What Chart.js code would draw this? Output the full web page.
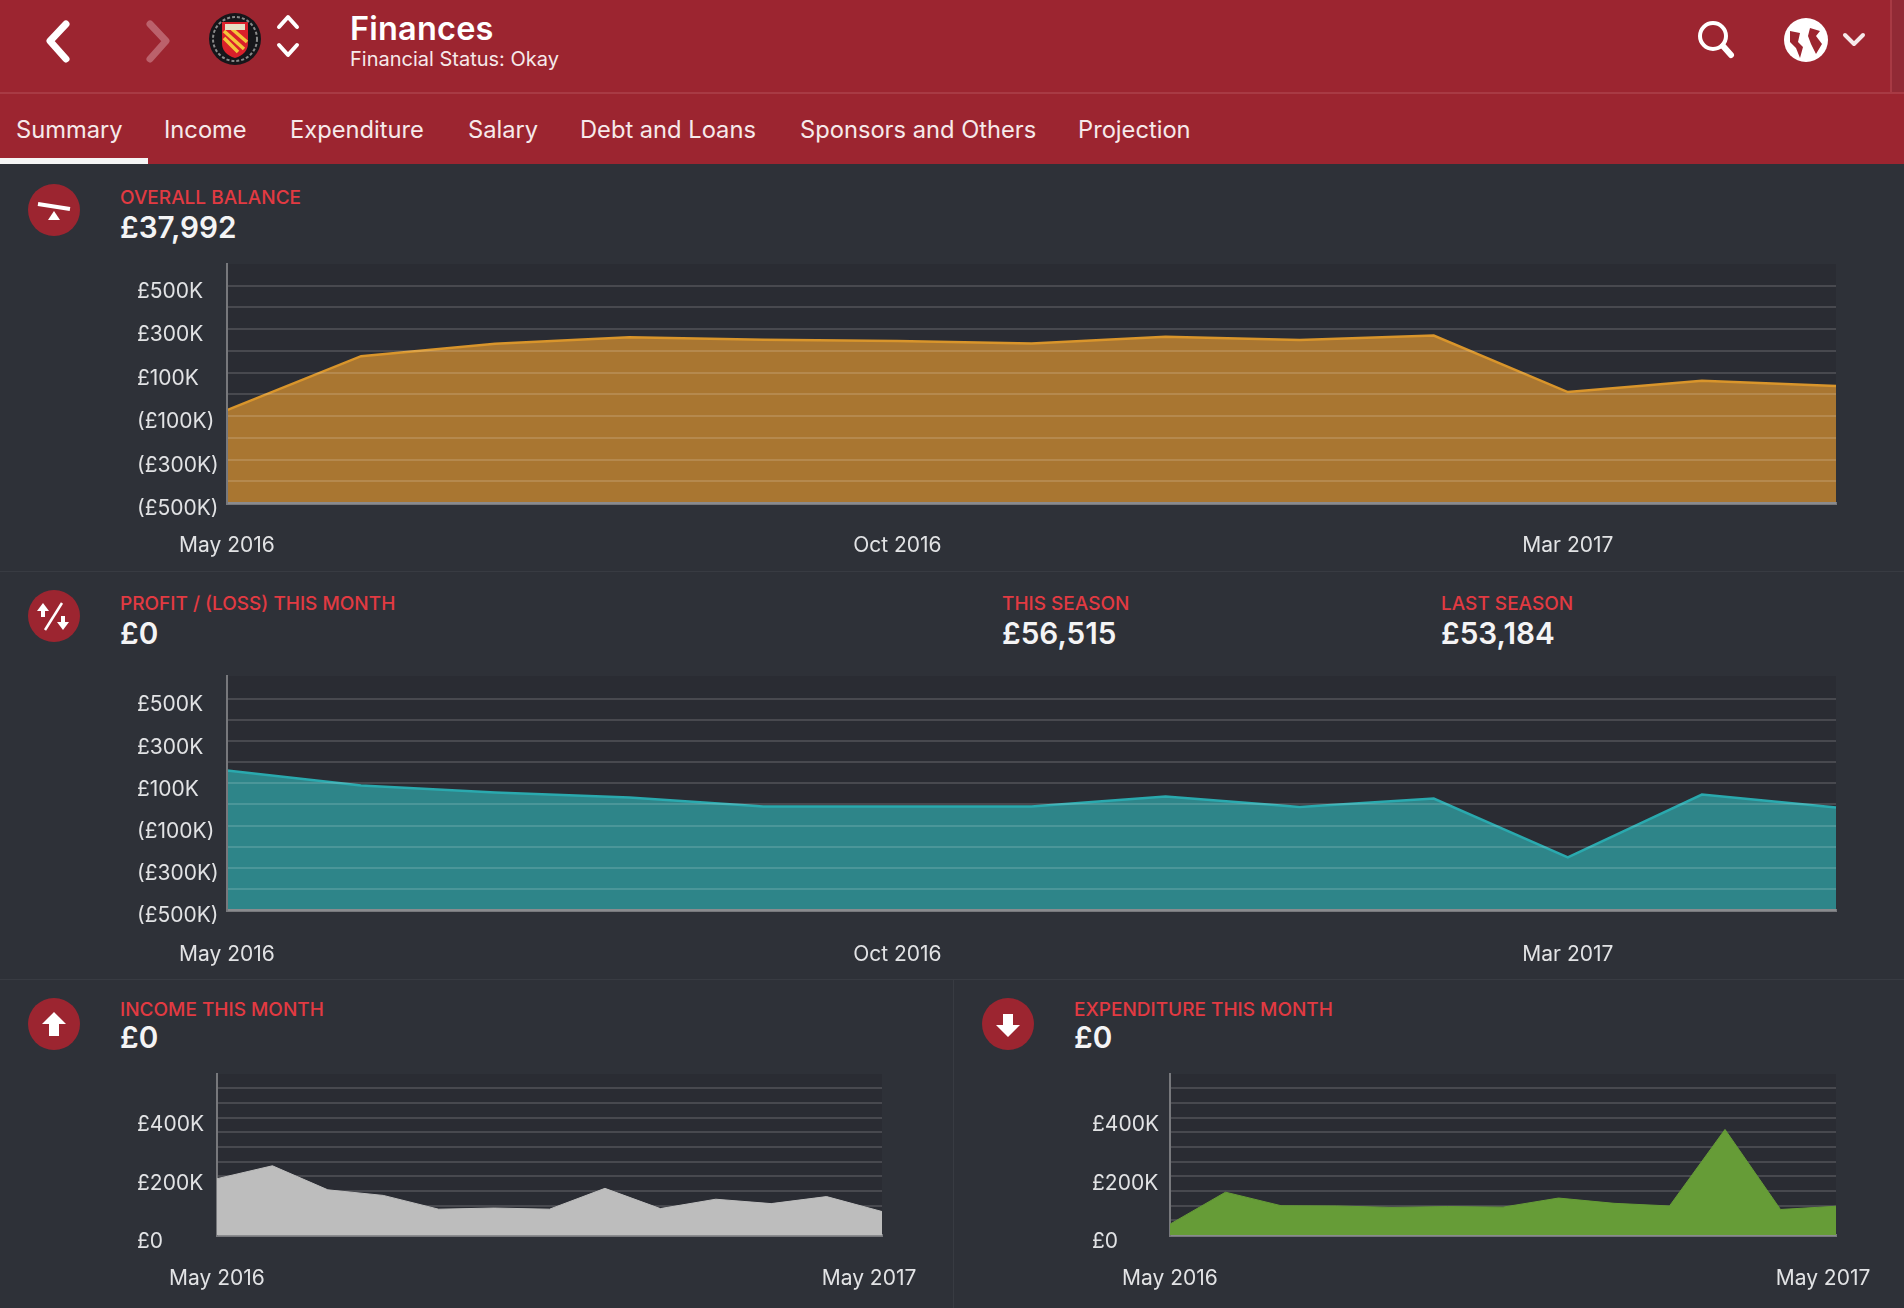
<!DOCTYPE html>
<html>
<head>
<meta charset="utf-8">
<title>Finances</title>
<script src="https://cdn.jsdelivr.net/npm/chart.js@4"></script>
<style>
    html, body { margin: 0; padding: 0; background: #2e3138; }
    body { position: relative; width: 1904px; height: 1308px; overflow: hidden; font-family: Inter, sans-serif; color: #fff; }
    .bar { position: absolute; background: #9c2530; left: 0; top: 0; width: 1904px; height: 164px; }
    .rule { position: absolute; }
    .txt { position: absolute; white-space: nowrap; line-height: 30px; height: 30px; }
    .tab { font-size: 23.7px; top: 115px; color: #f6e9ea; }
    .head { font-size: 19px; font-weight: 500; color: #e23a42; }
    .val { font-size: 29.7px; font-weight: 600; color: #f4f4f5; }
    canvas { position: absolute; }
    svg { position: absolute; left: 0; top: 0; }
</style>
</head>
<body>
<div class="bar"></div>
<div class="rule" style="left:0;top:92px;width:1904px;height:2px;background:#a83a44"></div>
<div class="rule" style="left:1890px;top:0;width:14px;height:92px;background:#912a35"></div>
<div class="rule" style="left:1890px;top:0;width:2px;height:92px;background:#a83a44"></div>
<div class="rule" style="left:0;top:158px;width:148px;height:6px;background:#f5f5f5"></div>
<div class="rule" style="left:0;top:571px;width:1904px;height:1px;background:#383b42"></div>
<div class="rule" style="left:0;top:979px;width:1904px;height:1px;background:#383b42"></div>
<div class="rule" style="left:953px;top:979px;width:1px;height:329px;background:#383b42"></div>

<div class="txt" style="left:350px;top:13px;font-size:32.5px;font-weight:600;line-height:32px;height:32px;letter-spacing:0.2px">Finances</div>
<div class="txt" style="left:350px;top:44px;font-size:20px;color:#f6e9ea">Financial Status: Okay</div>

<div class="txt tab" style="left:16px">Summary</div>
<div class="txt tab" style="left:164px">Income</div>
<div class="txt tab" style="left:290px">Expenditure</div>
<div class="txt tab" style="left:468px">Salary</div>
<div class="txt tab" style="left:580px">Debt and Loans</div>
<div class="txt tab" style="left:800px">Sponsors and Others</div>
<div class="txt tab" style="left:1078px">Projection</div>

<div class="txt head" style="left:120px;top:183px">OVERALL BALANCE</div>
<div class="txt val" style="left:120px;top:212px">£37,992</div>
<div class="txt head" style="left:120px;top:589px">PROFIT / (LOSS) THIS MONTH</div>
<div class="txt val" style="left:120px;top:618px">£0</div>
<div class="txt head" style="left:1002px;top:589px">THIS SEASON</div>
<div class="txt val" style="left:1002px;top:618px">£56,515</div>
<div class="txt head" style="left:1441px;top:589px">LAST SEASON</div>
<div class="txt val" style="left:1441px;top:618px">£53,184</div>
<div class="txt head" style="left:120px;top:995px">INCOME THIS MONTH</div>
<div class="txt val" style="left:120px;top:1022px">£0</div>
<div class="txt head" style="left:1074px;top:995px">EXPENDITURE THIS MONTH</div>
<div class="txt val" style="left:1074px;top:1022px">£0</div>

<svg width="1904" height="1308" fill="none">
    <g stroke="#fff" stroke-width="7" stroke-linecap="round" stroke-linejoin="round">
        <path d="M66 24 L50 41 L66 59"/>
        <path d="M150 24 L166 41 L150 59" stroke="#bb616b"/>
        <g stroke-width="4">
            <path d="M279 27 L288 17 L297 27"/>
            <path d="M279 45 L288 55 L297 45"/>
        </g>
    </g>
    <circle cx="235" cy="39" r="26" fill="#16161a"/>
    <circle cx="235" cy="39" r="22" stroke="#8a8a8a" stroke-width="2" stroke-dasharray="3 2"/>
    <path d="M222 22 H248 V43 Q248 54 235 58 Q222 54 222 43 Z" fill="#d9202a"/>
    <path d="M224 31 L244 49 M224 38 L238 52 M232 29 L247 42" stroke="#f3c53a" stroke-width="3.5"/>
    <rect x="225" y="24" width="20" height="6" fill="#e6e0c6"/>

    <circle cx="1713" cy="36" r="13" stroke="#fff" stroke-width="4"/>
    <path d="M1723 46 L1731 55" stroke="#fff" stroke-width="6" stroke-linecap="round"/>
    <circle cx="1806" cy="40" r="22" fill="#fff"/>
    <path d="M1790 31 L1800 33 L1798 42 L1803 47 L1800 58 L1796 48 L1790 42 Z M1810 28 L1820 31 L1816 36 L1822 44 L1816 54 L1811 44 L1808 36 Z" fill="#9c2530"/>
    <path d="M1845 35 L1854 44 L1863 35" stroke="#f6e9ea" stroke-width="4" stroke-linecap="round" stroke-linejoin="round"/>

    <circle cx="54" cy="210" r="26" fill="#9c2530"/>
    <path d="M38 204 L70 209" stroke="#fff" stroke-width="4"/>
    <path d="M54 211 L60 220 H48 Z" fill="#fff"/>

    <circle cx="54" cy="616" r="26" fill="#9c2530"/>
    <path d="M45 630 L62 603" stroke="#fff" stroke-width="2.5"/>
    <path d="M43 603 L49 611 H45 V617 H41 V611 H37 Z" fill="#fff"/>
    <path d="M63 630 L69 622 H65 V616 H61 V622 H57 Z" fill="#fff"/>

    <circle cx="54" cy="1024" r="26" fill="#9c2530"/>
    <path d="M54 1012 L66 1024 H59 V1036 H49 V1024 H42 Z" fill="#fff"/>

    <circle cx="1008" cy="1024" r="26" fill="#9c2530"/>
    <path d="M1008 1037 L1020 1025 H1013 V1014 H1003 V1025 H996 Z" fill="#fff"/>
</svg>

<canvas id="balanceChart" style="left:137px;top:259px" width="1767" height="306"></canvas>
<canvas id="profitChart" style="left:137px;top:671px" width="1767" height="300"></canvas>
<canvas id="incomeChart" style="left:137px;top:1069px" width="813" height="230"></canvas>
<canvas id="expenditureChart" style="left:1092px;top:1069px" width="812" height="230"></canvas>

<script>
const months = ['May 2016', 'Jun 2016', 'Jul 2016', 'Aug 2016', 'Sep 2016', 'Oct 2016', 'Nov 2016', 'Dec 2016', 'Jan 2017', 'Feb 2017', 'Mar 2017', 'Apr 2017', 'May 2017'];

const balanceValues = [-73000, 175000, 232000, 262000, 251000, 245000, 234000, 264000, 250000, 270000, 10000, 62000, 38000];
const profitValues = [161000, 90000, 57000, 33000, -9000, -9000, -9000, 38000, -12000, 28000, -251000, 47000, -14000];
const incomeValues = [192000, 236000, 154000, 135000, 88000, 92000, 88000, 159000, 90000, 122000, 107000, 131000, 80000];
const expenditureValues = [37000, 146000, 100000, 99000, 94000, 97000, 95000, 126000, 108000, 99000, 360000, 87000, 98000];

const wideMonthTicks = ['May 2016', 'Oct 2016', 'Mar 2017'];
const narrowMonthTicks = ['May 2016', 'May 2017'];

const wideGridValues = [-500000, -400000, -300000, -200000, -100000, 0, 100000, 200000, 300000, 400000, 500000];
const wideTickValues = [500000, 300000, 100000, -100000, -300000, -500000];
const wideTickLabels = ['£500K', '£300K', '£100K', '(£100K)', '(£300K)', '(£500K)'];
const narrowGridValues = [0, 50000, 100000, 150000, 200000, 250000, 300000, 350000, 400000, 450000, 500000];
const narrowTickValues = [400000, 200000, 0];
const narrowTickLabels = ['£400K', '£200K', '£0'];

const tickFont = { family: 'Inter', size: 21 };

// the panel behind the plot is a touch darker than the page
const plotBackground = {
    id: 'plotBackground',
    beforeDraw(chart) {
        const { ctx, chartArea: a } = chart;
        ctx.save();
        ctx.fillStyle = '#2a2c33';
        ctx.fillRect(a.left, a.top, a.width, a.height);
        ctx.restore();
    },
};

// in the small charts the closing month sits a bit left of its point
const pullLastMonth = {
    id: 'pullLastMonth',
    beforeDraw(chart) {
        const items = chart.scales.x.getLabelItems();
        const last = items[items.length - 1];
        if (last.label) last.options.translation[0] -= 13;
    },
};

function makeChart(elementId, values, o) {
    const canvas = document.getElementById(elementId);
    return new Chart(canvas.getContext('2d'), {
        type: 'line',
        plugins: [plotBackground, pullLastMonth],
        data: {
            labels: months,
            datasets: [{
                data: values,
                borderColor: o.line,
                backgroundColor: o.fill,
                borderWidth: o.lineWidth,
                fill: 'start',
                tension: 0,
                pointRadius: 0,
            }],
        },
        options: {
            responsive: false,
            animation: false,
            layout: { padding: { top: 5, right: 68, left: 0, bottom: 0 } },
            plugins: { legend: { display: false }, tooltip: { enabled: false } },
            scales: {
                x: {
                    grid: { display: false },
                    border: { color: '#77787c', width: 3, z: o.gridZ },
                    afterFit(scale) {
                        scale.height = o.xHeight;
                        scale.paddingLeft = 0;
                        scale.paddingRight = 0;
                    },
                    ticks: {
                        autoSkip: false,
                        maxRotation: 0,
                        padding: o.xPadding,
                        color: '#e2e3e5',
                        font: tickFont,
                        callback(value) {
                            const label = months[value];
                            return o.monthTicks.includes(label) ? label : '';
                        },
                    },
                },
                y: {
                    min: o.min,
                    max: o.max,
                    afterBuildTicks(scale) {
                        scale.ticks = o.gridValues.map(value => ({ value }));
                    },
                    afterFit(scale) {
                        scale.width = o.yWidth;
                        scale.paddingTop = 0;
                        scale.paddingBottom = 0;
                    },
                    grid: { color: o.grid, lineWidth: 2, drawTicks: false, z: o.gridZ },
                    border: { color: '#77787c', width: 2, z: o.gridZ },
                    ticks: {
                        autoSkip: false,
                        crossAlign: 'far',
                        labelOffset: o.labelOffset,
                        color: '#e2e3e5',
                        font: tickFont,
                        callback(value) {
                            const i = o.tickValues.indexOf(value);
                            return i < 0 ? '' : o.tickLabels[i];
                        },
                    },
                },
            },
        },
    });
}

const wide = {
    min: -500000, yWidth: 90, lineWidth: 2.5, gridZ: 1, labelOffset: 6,
    grid: 'rgba(255,255,255,0.14)', gridValues: wideGridValues,
    monthTicks: wideMonthTicks, tickValues: wideTickValues, tickLabels: wideTickLabels,
};
const narrow = {
    min: 0, max: 549000, lineWidth: 1, gridZ: 0, xHeight: 64, xPadding: 23, labelOffset: 7,
    grid: 'rgba(255,255,255,0.14)', gridValues: narrowGridValues,
    monthTicks: narrowMonthTicks, tickValues: narrowTickValues, tickLabels: narrowTickLabels,
};

makeChart('balanceChart', balanceValues, {
    ...wide, max: 599000, xHeight: 62, xPadding: 22,
    line: '#d9952b', fill: 'rgba(224,150,48,0.7)',
});
makeChart('profitChart', profitValues, {
    ...wide, max: 609000, xHeight: 61, xPadding: 24,
    line: '#2aa9ae', fill: 'rgba(49,171,174,0.7)',
});
makeChart('incomeChart', incomeValues, {
    ...narrow, yWidth: 80,
    line: '#bdbdbd', fill: '#bdbdbd',
});
makeChart('expenditureChart', expenditureValues, {
    ...narrow, yWidth: 78,
    line: '#669c37', fill: '#669c37',
});
</script>
</body>
</html>
